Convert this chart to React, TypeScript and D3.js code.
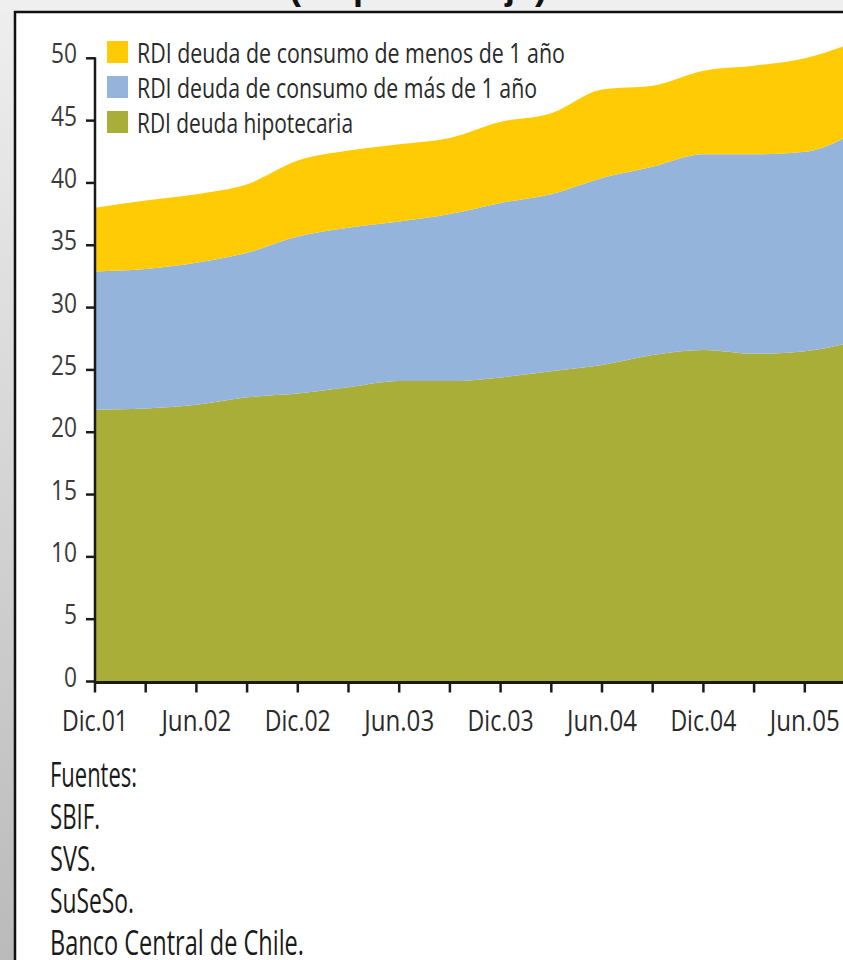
import * as d3 from "d3";
import { useEffect, useRef } from "react";

// quarterly series, percent of disposable income
const quarters = ["Dic.01", "Mar.02", "Jun.02", "Sep.02", "Dic.02", "Mar.03", "Jun.03", "Sep.03",
    "Dic.03", "Mar.04", "Jun.04", "Sep.04", "Dic.04", "Mar.05", "Jun.05", "Sep.05"];
const hipotecaria = [21.8, 21.9, 22.2, 22.8, 23.1, 23.6, 24.1, 24.1, 24.4, 24.9, 25.4, 26.2, 26.6, 26.3, 26.5, 27.3];
const consumoMas = [11.1, 11.2, 11.4, 11.6, 12.6, 12.8, 12.8, 13.4, 14.0, 14.2, 15.0, 15.1, 15.7, 16.0, 16.0, 16.8];
const consumoMenos = [5.1, 5.5, 5.5, 5.5, 6.1, 6.2, 6.2, 6.1, 6.5, 6.5, 7.1, 6.5, 6.7, 7.1, 7.5, 7.2];

const seriesKeys = ["hipotecaria", "consumoMas", "consumoMenos"];
const legendLabels = [
    "RDI deuda de consumo de menos de 1 año",
    "RDI deuda de consumo de más de 1 año",
    "RDI deuda hipotecaria"
];
const legendKeys = ["consumoMenos", "consumoMas", "hipotecaria"];
const yTicks = [0, 5, 10, 15, 20, 25, 30, 35, 40, 45, 50];
const xLabels = quarters.filter((_, i) => i % 2 === 0);
const subtitle = "(en porcentaje)";
const sources = ["Fuentes:", "SBIF.", "SVS.", "SuSeSo.", "Banco Central de Chile."];

const colors = {
    hipotecaria: "#a8ae38",
    consumoMas: "#95b4dc",
    consumoMenos: "#ffcb05"
};

// the original type is a tall condensed face; squeeze a regular one to fit
const FONT = "'Open Sans', 'Liberation Sans', sans-serif";
const legendWidths = [428, 400, 216];
const sourceWidths = [87, 50, 46, 84, 254];
const labelWidth = s => (s.startsWith("Jun") ? 70 : 66);

function App() {
    const ref = useRef(null);

    useEffect(() => {
        document.body.style.margin = "0";
        const width = 843;
        const height = 960;

        d3.select(ref.current).selectAll("*").remove();

        const svg = d3.select(ref.current)
            .append("svg")
            .attr("width", width)
            .attr("height", height)
            .style("display", "block")
            .style("overflow", "hidden");

        // slide background
        const defs = svg.append("defs");
        const grad = defs.append("linearGradient")
            .attr("id", "side")
            .attr("x1", 0).attr("y1", 0).attr("x2", 0).attr("y2", 1);
        grad.append("stop").attr("offset", "0%").attr("stop-color", "#eeeeee");
        grad.append("stop").attr("offset", "100%").attr("stop-color", "#bababa");

        svg.append("rect").attr("width", width).attr("height", height).attr("fill", "#efefef");
        svg.append("rect").attr("x", 0).attr("y", 12).attr("width", 15).attr("height", height - 12)
            .attr("fill", "url(#side)");
        svg.append("rect").attr("x", 15).attr("y", 12).attr("width", width).attr("height", height)
            .attr("fill", "#ffffff").attr("stroke", "#111").attr("stroke-width", 2.5);

        // cut-off title line, only descenders show
        svg.append("text")
            .attr("x", 418).attr("y", -1)
            .attr("text-anchor", "middle")
            .attr("font-family", "'Liberation Sans', sans-serif")
            .attr("font-weight", "bold")
            .attr("font-size", 36)
            .attr("fill", "#111")
            .text(subtitle);

        const x = d3.scalePoint().domain(quarters).range([95, 95 + 50.7 * (quarters.length - 1)]);
        const y = d3.scaleLinear().domain([0, 50]).range([681.5, 58.3]);

        const table = quarters.map((q, i) => ({
            q,
            hipotecaria: hipotecaria[i],
            consumoMas: consumoMas[i],
            consumoMenos: consumoMenos[i]
        }));
        const stacked = d3.stack().keys(seriesKeys)(table);

        const area = d3.area()
            .x(d => x(d.data.q))
            .y0(d => y(d[0]))
            .y1(d => y(d[1]))
            .curve(d3.curveMonotoneX);

        svg.append("g")
            .selectAll("path")
            .data(stacked)
            .enter()
            .append("path")
            .attr("d", area)
            .attr("fill", d => colors[d.key]);

        // y axis
        const yAxis = svg.append("g");
        yAxis.append("line")
            .attr("x1", 95).attr("x2", 95)
            .attr("y1", y(50) - 1).attr("y2", y(0) + 1)
            .attr("stroke", "#1a1a1a").attr("stroke-width", 2.5);
        yAxis.selectAll("line.tick")
            .data(yTicks)
            .enter()
            .append("line")
            .attr("class", "tick")
            .attr("x1", 86).attr("x2", 95)
            .attr("y1", d => y(d)).attr("y2", d => y(d))
            .attr("stroke", "#1a1a1a").attr("stroke-width", 2.5);
        yAxis.selectAll("text")
            .data(yTicks)
            .enter()
            .append("text")
            .attr("x", 77)
            .attr("y", d => y(d) + 5)
            .attr("text-anchor", "end")
            .attr("font-family", FONT)
            .attr("font-size", 28)
            .attr("textLength", d => (d >= 10 ? 26 : 13))
            .attr("lengthAdjust", "spacingAndGlyphs")
            .attr("fill", "#3a3a3a")
            .text(d => d);

        // x axis
        const xAxis = svg.append("g");
        xAxis.append("line")
            .attr("x1", 94).attr("x2", width)
            .attr("y1", y(0) + 1).attr("y2", y(0) + 1)
            .attr("stroke", "#1a1a1a").attr("stroke-width", 3);
        xAxis.selectAll("line.tick")
            .data(quarters)
            .enter()
            .append("line")
            .attr("class", "tick")
            .attr("x1", d => x(d)).attr("x2", d => x(d))
            .attr("y1", y(0) + 1).attr("y2", y(0) + 11)
            .attr("stroke", "#1a1a1a").attr("stroke-width", 2.5);
        xAxis.selectAll("text")
            .data(xLabels)
            .enter()
            .append("text")
            .attr("x", d => x(d))
            .attr("y", 731)
            .attr("text-anchor", "middle")
            .attr("font-family", FONT)
            .attr("font-size", 30)
            .attr("textLength", d => labelWidth(d))
            .attr("lengthAdjust", "spacingAndGlyphs")
            .attr("fill", "#2a2a2a")
            .text(d => d);

        // legend
        const legend = svg.append("g")
            .selectAll("g")
            .data(legendKeys)
            .enter()
            .append("g")
            .attr("transform", (d, i) => `translate(107,${63 + i * 35})`);
        legend.append("rect")
            .attr("x", 0).attr("y", -22)
            .attr("width", 21).attr("height", 22)
            .attr("fill", d => colors[d]);
        legend.append("text")
            .attr("x", 30).attr("y", 0)
            .attr("font-family", FONT)
            .attr("font-size", 28)
            .attr("textLength", (d, i) => legendWidths[i])
            .attr("lengthAdjust", "spacingAndGlyphs")
            .attr("fill", "#2a2a2a")
            .text((d, i) => legendLabels[i]);

        // sources
        svg.append("g")
            .selectAll("text")
            .data(sources)
            .enter()
            .append("text")
            .attr("x", 50)
            .attr("y", (d, i) => 787 + i * 42)
            .attr("font-family", FONT)
            .attr("font-size", 34)
            .attr("textLength", (d, i) => sourceWidths[i])
            .attr("lengthAdjust", "spacingAndGlyphs")
            .attr("fill", "#1a1a1a")
            .text(d => d);
    }, []);

    return <div ref={ref}></div>;
}

export default App;
